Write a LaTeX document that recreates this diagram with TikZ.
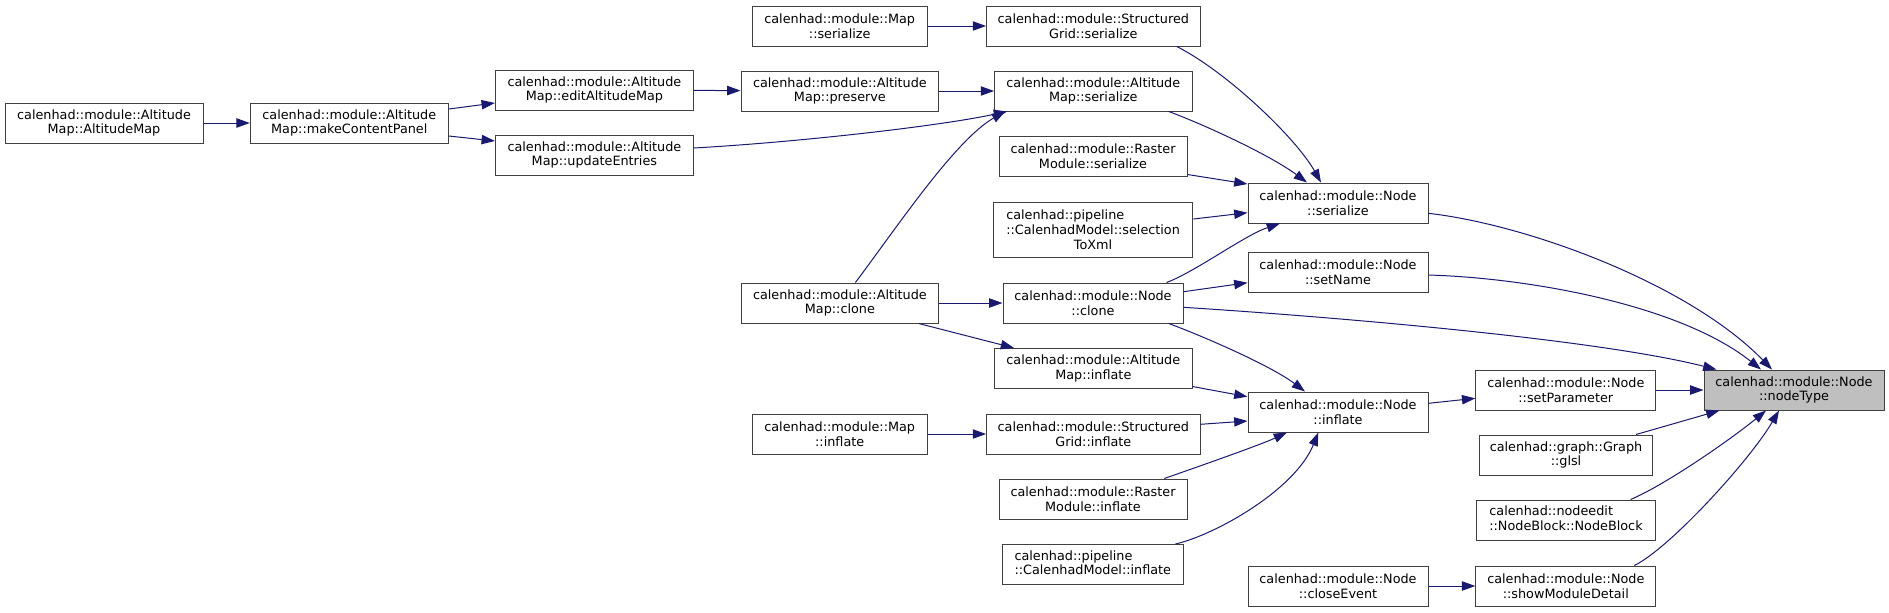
\documentclass[tikz,border=0pt]{standalone}
\usepackage{fontspec}
\setmainfont{DejaVu Sans}
\usetikzlibrary{arrows.meta,calc}
\definecolor{edgeblue}{HTML}{191970}
\definecolor{boxgray}{HTML}{404040}
\definecolor{rootfill}{HTML}{BFBFBF}
\tikzset{
  fn/.style={draw=boxgray, line width=0.75pt, fill=white, inner sep=0pt,
    minimum height=30pt, align=center, font=\fontsize{9.6}{11}\selectfont},
  wd/.style={minimum width=#1*0.75pt},
  root/.style={fn, fill=rootfill},
  edge/.style={draw=edgeblue, line width=0.75pt, -{Triangle[length=10pt,width=7pt]}},
}
\begin{document}
\begin{tikzpicture}[x=0.75pt,y=-0.75pt]
\useasboundingbox (0,0) rectangle (1889,612);
% column 1-3
\node[fn,wd=198] (amAM) at (104,123) {calenhad::module::Altitude\\Map::AltitudeMap};
\node[fn,wd=198] (mcp) at (349.3,123) {calenhad::module::Altitude\\Map::makeContentPanel};
\node[fn,wd=198] (edit) at (594.4,90) {calenhad::module::Altitude\\Map::editAltitudeMap};
\node[fn,wd=198] (upd) at (594.4,155) {calenhad::module::Altitude\\Map::updateEntries};
% column 4
\node[fn,wd=175] (mapSer) at (839.7,26) {calenhad::module::Map\\::serialize};
\node[fn,wd=197.8] (pres) at (839.9,91) {calenhad::module::Altitude\\Map::preserve};
\node[fn,wd=197.8] (amClone) at (839.9,303) {calenhad::module::Altitude\\Map::clone};
\node[fn,wd=175] (mapInf) at (839.7,434) {calenhad::module::Map\\::inflate};
% column 5
\node[fn,wd=213.4] (sgSer) at (1093.3,26) {calenhad::module::Structured\\Grid::serialize};
\node[fn,wd=197.4] (amSer) at (1093.3,91) {calenhad::module::Altitude\\Map::serialize};
\node[fn,wd=188] (rmSer) at (1093,156) {calenhad::module::Raster\\Module::serialize};
\node[fn,wd=199.6,minimum height=41.25pt] (sel) at (1093.1,229.5)
  {\begin{tabular}[b]{@{}l@{}}calenhad::pipeline\\::CalenhadModel::selection\end{tabular}\\ToXml};
\node[fn,wd=180] (nClone) at (1093,303) {calenhad::module::Node\\::clone};
\node[fn,wd=197.4] (amInf) at (1093.3,368.5) {calenhad::module::Altitude\\Map::inflate};
\node[fn,wd=213.4] (sgInf) at (1093.3,434) {calenhad::module::Structured\\Grid::inflate};
\node[fn,wd=188] (rmInf) at (1093,499) {calenhad::module::Raster\\Module::inflate};
\node[fn,wd=181.5] (cmInf) at (1092.8,564.5)
  {\begin{tabular}{@{}l@{}}calenhad::pipeline\\::CalenhadModel::inflate\end{tabular}};
% column 6
\node[fn,wd=180] (nSer) at (1338,203) {calenhad::module::Node\\::serialize};
\node[fn,wd=180] (nSet) at (1338,272) {calenhad::module::Node\\::setName};
\node[fn,wd=180] (nInf) at (1338,412) {calenhad::module::Node\\::inflate};
\node[fn,wd=180] (nClose) at (1338,586) {calenhad::module::Node\\::closeEvent};
% column 7
\node[fn,wd=180] (setPar) at (1565.8,390) {calenhad::module::Node\\::setParameter};
\node[fn,wd=173.5] (glsl) at (1566,455) {calenhad::graph::Graph\\::glsl};
\node[fn,wd=178.8] (nBlock) at (1566,520)
  {\begin{tabular}{@{}l@{}}calenhad::nodeedit\\::NodeBlock::NodeBlock\end{tabular}};
\node[fn,wd=180] (showMD) at (1565.8,586) {calenhad::module::Node\\::showModuleDetail};
% root
\node[root,wd=180] (nodeType) at (1794,390) {calenhad::module::Node\\::nodeType};

% edges
\draw[edge] (amAM) -- (mcp);
\draw[edge] ($(mcp.east)+(0,-14)$) -- ($(edit.west)+(0,13)$);
\draw[edge] ($(mcp.east)+(0,13)$) -- ($(upd.west)+(0,-14)$);
\draw[edge] (edit) -- (pres);
\draw[edge] ($(upd.east)+(0,-7)$) .. controls (800,142) and (940,126) .. ($(amSer.south west)+(13,0)$);
\draw[edge] (pres) -- (amSer);
\draw[edge] (mapSer) -- (sgSer);
\draw[edge] ($(sgSer.south)+(83.5,0)$) .. controls (1227,72) and (1296,138) .. ($(nSer.north)+(-17,0)$);
\draw[edge] ($(amSer.south)+(75.5,0)$) .. controls (1205,125) and (1270,155) .. ($(nSer.north)+(-31,0)$);
\draw[edge] ($(rmSer.south east)+(0,-2)$) -- ($(nSer.north west)+(0,1.5)$);
\draw[edge] ($(sel.east)+(0,-10.5)$) -- ($(nSer.west)+(0,9.7)$);
\draw[edge] ($(nClone.north)+(73.5,0)$) .. controls (1195,272) and (1245,235) .. ($(nSer.south)+(-58,0)$);
\draw[edge] ($(nClone.east)+(0,-11.3)$) -- ($(nSet.west)+(0,10.7)$);
\draw[edge] ($(nClone.east)+(0,4.3)$) .. controls (1350,318) and (1600,340) .. ($(nodeType.north west)+(13,0)$);
\draw[edge] (amClone) -- (nClone);
\draw[edge] ($(amClone.north)+(15.5,0)$) .. controls (895,230) and (955,140) .. ($(amSer.south west)+(11,0)$);
\draw[edge] ($(amClone.south)+(78.85,0)$) -- ($(amInf.north west)+(20,0)$);
\draw[edge] ($(nClone.south)+(75.75,0)$) .. controls (1200,335) and (1270,365) .. ($(nInf.north)+(-33,0)$);
\draw[edge] ($(amInf.east)+(0,18)$) -- ($(nInf.west)+(0,-15.3)$);
\draw[edge] ($(sgInf.east)+(0,-9.7)$) -- ($(nInf.west)+(0,9)$);
\draw[edge] (mapInf) -- (sgInf);
\draw[edge] ($(rmInf.north)+(71.3,0)$) .. controls (1200,466) and (1260,445) .. ($(nInf.south)+(-51,0)$);
\draw[edge] ($(cmInf.north)+(82.6,0)$) .. controls (1215,535) and (1295,490) .. ($(nInf.south)+(-19.7,0)$);
\draw[edge] ($(nInf.east)+(0,-8.7)$) -- ($(setPar.west)+(0,8.3)$);
\draw[edge] (setPar) -- (nodeType);
\draw[edge] ($(nSer.east)+(0,10.3)$) .. controls (1530,225) and (1690,285) .. ($(nodeType.north)+(-22,0)$);
\draw[edge] ($(nSet.east)+(0,3)$) .. controls (1530,278) and (1680,305) .. ($(nodeType.north)+(-33,0)$);
\draw[edge] ($(glsl.north)+(70,0)$) -- ($(nodeType.south west)+(16,0)$);
\draw[edge] ($(nBlock.north)+(64.6,0)$) .. controls (1665,485) and (1730,440) .. ($(nodeType.south)+(-28,0)$);
\draw[edge] ($(showMD.north)+(68.5,0)$) .. controls (1670,548) and (1750,460) .. ($(nodeType.south)+(-15,0)$);
\draw[edge] (nClose) -- (showMD);
\end{tikzpicture}
\end{document}
